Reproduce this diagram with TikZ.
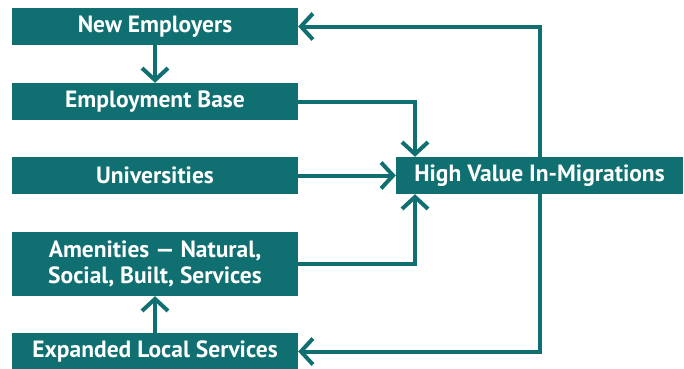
\documentclass[tikz,border=0pt]{standalone}
\usepackage{fontspec}
\setmainfont{PT Sans}
\usetikzlibrary{arrows.meta}
\definecolor{teal1}{HTML}{106F71}
\tikzset{
  box/.style={fill=teal1, text=white, font=\bfseries\fontsize{23.5}{25.5}\selectfont,
    minimum width=286pt, minimum height=37pt, inner sep=0pt, align=center},
  arr/.style={draw=teal1, line width=4pt,
    -{Straight Barb[length=12pt,width=26pt]}}
}
\begin{document}
\begin{tikzpicture}[x=1pt,y=-1pt]
\useasboundingbox (0,0) rectangle (684,368);
\node[box] (ne) at (155,26.5) {New Employers};
\node[box] (eb) at (155,101.5) {Employment Base};
\node[box] (un) at (155,175.5) {Universities};
\node[box, minimum height=64pt] (am) at (155,264) {Amenities — Natural,\\Social, Built, Services};
\node[box] (es) at (155,351.5) {Expanded Local Services};
\node[box, minimum width=287pt] (hv) at (539.5,175.5) {High Value In-Migrations};
\coordinate (jx) at (415,0);
\draw[arr] (ne) -- (eb);
\draw[arr] (es) -- (am);
\draw[arr] (eb.east) -| (jx |- hv.north);
\draw[arr] (un) -- (hv);
\draw[arr] (am.east) -| (jx |- hv.south);
\draw[arr] (hv.north) |- (ne.east);
\draw[arr] (hv.south) |- (es.east);
\end{tikzpicture}
\end{document}
